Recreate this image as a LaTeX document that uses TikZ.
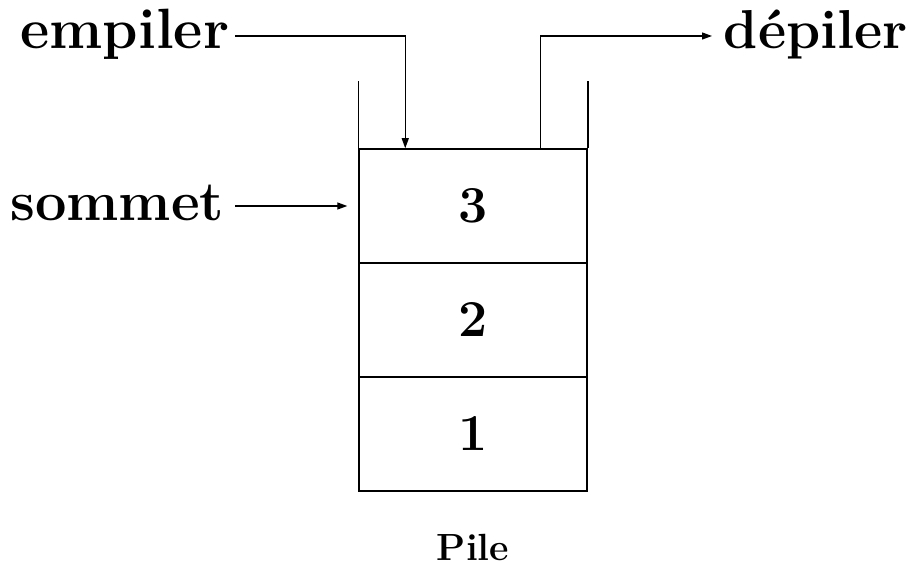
\documentclass[tikz,border=0pt]{standalone}
\usepackage{fontspec}
\usetikzlibrary{arrows.meta,calc}
\begin{document}
\begin{tikzpicture}[x=1bp,y=-1bp,
  line width=1.5bp,
  cell/.style={draw,minimum width=228bp,minimum height=114bp,inner sep=0pt,
    font=\fontsize{52}{56}\selectfont\bfseries},
  lbl/.style={inner sep=0pt,font=\fontsize{56}{60}\selectfont\bfseries},
  arr/.style={-{Triangle[length=10bp,width=7bp]},line width=1.2bp}]
\useasboundingbox (0,0) rectangle (913,566);
\node[cell] (c3) at (473,206) {3};
\node[cell] (c2) at (473,320) {2};
\node[cell] (c1) at (473,434) {1};
\draw (c3.north west) -- ++(0,-67);
\draw (c3.north east) -- ++(0,-67);
\node[lbl,anchor=base east,font=\fontsize{57}{60}\selectfont\bfseries] (emp) at (230,49) {empiler};
\node[lbl,anchor=base west,font=\fontsize{55}{60}\selectfont\bfseries] (dep) at (723,49) {dépiler};
\node[lbl,anchor=base east] (som) at (225,221) {sommet};
\node[inner sep=0pt,anchor=base,font=\fontsize{38}{42}\selectfont\bfseries] (pile) at (473,560) {Pile};
\draw[arr] ([shift={(5,-13)}]emp.base east) -| ([xshift=-68]c3.north);
\draw[arr] ([xshift=68]c3.north) |- ([shift={(-11,-13)}]dep.base west);
\draw[arr] ([shift={(10,-15)}]som.base east) -- ([xshift=-11]c3.west);
\end{tikzpicture}
\end{document}
